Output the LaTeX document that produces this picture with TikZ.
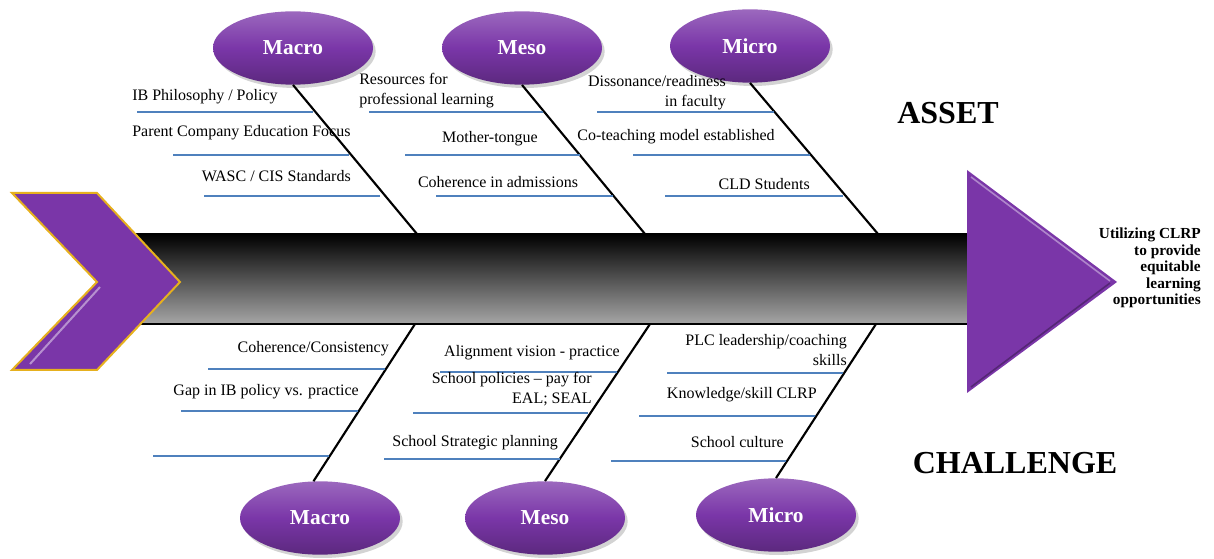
\documentclass[tikz,border=0pt]{standalone}
\usepackage{fontspec}
\setmainfont{Liberation Serif}
\usetikzlibrary{shapes.geometric, positioning, shadows}
\definecolor{tagpurple}{RGB}{122,54,168}
\definecolor{ribblue}{RGB}{79,129,189}
\definecolor{chevgold}{RGB}{230,176,30}
\tikzset{
  tag/.style={ellipse, minimum width=120pt, minimum height=55pt, inner sep=0pt,
    top color=tagpurple!75!white, bottom color=tagpurple!75!black,
    middle color=tagpurple,
    drop shadow={opacity=0.35, shadow xshift=2pt, shadow yshift=-2.5pt},
    text=white, font=\fontsize{16}{18}\selectfont\bfseries},
  item/.style={inner sep=0pt, font=\fontsize{12}{15}\selectfont},
  goal/.style={inner sep=0pt, align=right,
    font=\fontsize{11.5}{12.4}\selectfont\bfseries},
  heading/.style={inner sep=0pt, font=\fontsize{24}{28}\selectfont\bfseries},
  rib/.style={draw=ribblue, line width=1pt},
  bone/.style={draw=black, line width=1.6pt},
}

\begin{document}
\begin{tikzpicture}[x=0.75pt, y=-0.75pt]
  \useasboundingbox (0,0) rectangle (1214,559);

  % spine
  \shade[top color=black, bottom color=black!35] (135,234) rectangle (967,324);
  \draw[line width=2pt] (135,234) -- (967,234) (135,324) -- (967,324);

  % head and tail
  \fill[tagpurple] (967,170) -- (1117,282) -- (967,393) -- cycle;
  \draw[tagpurple!60!white, line width=1.2pt] (971,177) -- (1110,281);
  \draw[tagpurple!70!black, line width=1.2pt] (1110,283) -- (971,387);
  \draw[fill=tagpurple, draw=chevgold, line width=1.5pt]
    (12,193) -- (97,193) -- (180,282) -- (97,370) -- (12,370) -- (97,282) -- cycle;
  \draw[tagpurple!55!white, line width=1.5pt] (100,287) -- (30,364);

  % bone ends on the spine
  \coordinate (macroTopEnd) at (417,234);
  \coordinate (mesoTopEnd)  at (645,234);
  \coordinate (microTopEnd) at (878,234);
  \coordinate (macroBotEnd) at (415,324);
  \coordinate (mesoBotEnd)  at (650,324);
  \coordinate (microBotEnd) at (876,324);

  % categories
  \node[tag] (macroTop) at (293,48)  {Macro};
  \node[tag] (mesoTop)  at (522,48)  {Meso};
  \node[tag] (microTop) at (750,46)  {Micro};
  \node[tag] (macroBot) at (320,518) {Macro};
  \node[tag] (mesoBot)  at (545,518) {Meso};
  \node[tag] (microBot) at (776,515) {Micro};

  \draw[bone] (macroTop.south) -- (macroTopEnd);
  \draw[bone] (mesoTop.south)  -- (mesoTopEnd);
  \draw[bone] (microTop.south) -- (microTopEnd);
  \draw[bone] (macroBot.100)   -- (macroBotEnd);
  \draw[bone] (mesoBot.north)  -- (mesoBotEnd);
  \draw[bone] (microBot.north) -- (microBotEnd);

  % ribs
  \foreach \xa/\xb/\y in {137/313/112, 173/349/155, 204/380/196,
                          369/543/112, 405/580/155, 436/613/196,
                          597/774/112, 633/810/155, 665/843/196,
                          208/385/369, 181/358/411, 153/329/456,
                          440/617/372, 413/588/413, 384/560/459,
                          667/843/373, 639/815/416, 611/786/461}
    \draw[rib] (\xa,\y) -- (\xb,\y);

  % asset causes
  \node[item, anchor=west] (ibPolicy)    at (132,97)  {IB Philosophy / Policy};
  \node[item, anchor=west] (parentFocus) at (132,133) {Parent Company Education Focus};
  \node[item, anchor=east] (wascCis)     at (351,176) {WASC / CIS Standards};
  \node[item, anchor=west, align=left] (resources) at (359,91)
    {Resources for\\professional learning};
  \node[item] (motherTongue) at (490,139) {Mother-tongue};
  \node[item] (admissions)   at (498,182) {Coherence in admissions};
  \node[item, anchor=east, align=right] (dissonance) at (726,93)
    {Dissonance/readiness\\in faculty};
  \node[item] (coTeaching)   at (676,137) {Co-teaching model established};
  \node[item, anchor=east] (cldStudents) at (810,184) {CLD Students};

  % challenge causes
  \node[item, anchor=east] (coherence) at (389,349) {Coherence/Consistency};
  \node[item, anchor=east] (ibGap)     at (359,392) {Gap in IB policy vs. practice};
  \node[item, anchor=east] (alignment) at (620,353) {Alignment vision - practice};
  \node[item, anchor=east, align=right] (schoolPolicies) at (592,389)
    {School policies -- pay for\\EAL; SEAL};
  \node[item, anchor=east] (strategic) at (558,443) {School Strategic planning};
  \node[item, anchor=east, align=right] (plcSkills) at (847,350)
    {PLC leadership/coaching\\skills};
  \node[item, anchor=east] (clrpSkill) at (817,395) {Knowledge/skill CLRP};
  \node[item, anchor=east] (culture)   at (784,442) {School culture};

  % outcome and headings
  \node[goal, anchor=east] (outcome) at (1201,268)
    {Utilizing CLRP\\to provide\\equitable\\learning\\opportunities};
  \node[heading] (asset)     at (948,113)  {ASSET};
  \node[heading] (challenge) at (1015,463) {CHALLENGE};

\end{tikzpicture}
\end{document}
